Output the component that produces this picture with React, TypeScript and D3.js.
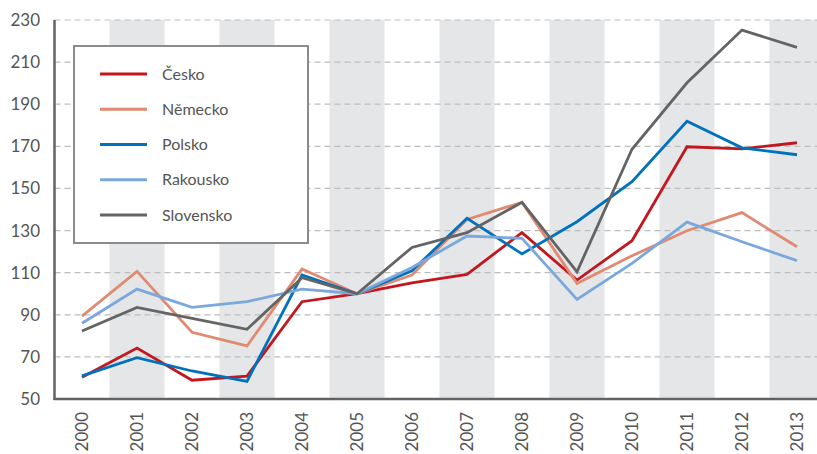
import React, { useEffect, useRef } from 'react';
import * as d3 from 'd3';

const years = ['2000', '2001', '2002', '2003', '2004', '2005', '2006', '2007', '2008', '2009', '2010', '2011', '2012', '2013'];
const yTicks = [50, 70, 90, 110, 130, 150, 170, 190, 210, 230];

const cesko = [60.3, 74.2, 58.9, 60.9, 96.2, 100, 105.2, 109.2, 129, 106.5, 125.2, 169.8, 168.8, 171.7];
const nemecko = [89.4, 110.6, 81.7, 75.2, 111.7, 100, 108.9, 135.3, 143.4, 104.9, 118, 129.9, 138.5, 122.3];
const polsko = [61, 69.6, 63.3, 58.4, 108.9, 100, 110.9, 135.8, 118.9, 134.2, 153.2, 181.9, 169.3, 166];
const rakousko = [86, 102.2, 93.5, 96.2, 102.2, 100, 112.5, 127.4, 126.3, 97.3, 114.4, 134, 124.7, 115.7];
const slovensko = [82.3, 93.5, 88.3, 83.1, 107.6, 100, 122, 129, 143.4, 110.4, 168.6, 200.2, 225.2, 217];

const seriesNames = ['Česko', 'Německo', 'Polsko', 'Rakousko', 'Slovensko'];
const seriesValues = [cesko, nemecko, polsko, rakousko, slovensko];
const seriesColors = ['#c1171f', '#e08a72', '#0072bd', '#7aa8dd', '#646464'];

const W = 817;
const H = 454;
const FONT = 'Lato, "Noto Sans", sans-serif';

const App = () => {
  const svgRef = useRef<SVGSVGElement>(null);

  useEffect(() => {
    const svg = d3.select(svgRef.current);
    svg.selectAll('*').remove();

    const left = 54.5;
    const right = 824.5;
    const top = 20;
    const bottom = 399;

    const x = d3.scaleBand().domain(years).range([left, right]).padding(0);
    const y = d3.scaleLinear().domain([50, 230]).range([bottom, top]);
    const cx = (yr: string) => (x(yr) as number) + x.bandwidth() / 2;

    // shaded bands for odd years
    svg.append('g')
      .selectAll('rect')
      .data(years.filter((_, i) => i % 2 === 1))
      .join('rect')
      .attr('x', d => x(d) as number)
      .attr('y', top)
      .attr('width', x.bandwidth())
      .attr('height', bottom - top)
      .attr('fill', '#e5e6e8');

    // dashed grid
    svg.append('g')
      .selectAll('line')
      .data(yTicks.filter(t => t > 50))
      .join('line')
      .attr('x1', left)
      .attr('x2', W)
      .attr('y1', d => y(d))
      .attr('y2', d => y(d))
      .attr('stroke', '#bdbdbd')
      .attr('stroke-width', 1.2)
      .attr('stroke-dasharray', '6,4');

    // y labels
    svg.append('g')
      .selectAll('text')
      .data(yTicks)
      .join('text')
      .attr('x', 40)
      .attr('y', d => y(d))
      .attr('dy', '0.35em')
      .attr('text-anchor', 'end')
      .attr('font-family', FONT)
      .attr('font-size', 17)
      .attr('fill', '#555')
      .text(d => d);

    // x labels
    svg.append('g')
      .selectAll('text')
      .data(years)
      .join('text')
      .attr('transform', d => `translate(${cx(d)},${bottom + 13}) rotate(-90)`)
      .attr('dy', '0.35em')
      .attr('text-anchor', 'end')
      .attr('font-family', FONT)
      .attr('font-size', 17)
      .attr('fill', '#555')
      .text(d => d);

    // lines
    const lineGen = d3.line<number>()
      .x((_, i) => cx(years[i]))
      .y(v => y(v));

    svg.append('g')
      .selectAll('path')
      .data(seriesValues)
      .join('path')
      .attr('d', d => lineGen(d))
      .attr('fill', 'none')
      .attr('stroke', (_, i) => seriesColors[i])
      .attr('stroke-width', 2.8)
      .attr('stroke-linejoin', 'miter');

    // axes
    svg.append('line')
      .attr('x1', left).attr('x2', left)
      .attr('y1', top).attr('y2', bottom + 1)
      .attr('stroke', '#636363').attr('stroke-width', 2.5);
    svg.append('line')
      .attr('x1', left - 1).attr('x2', W)
      .attr('y1', bottom).attr('y2', bottom)
      .attr('stroke', '#636363').attr('stroke-width', 2.5);

    // legend
    const legend = svg.append('g');
    legend.append('rect')
      .attr('x', 74).attr('y', 46)
      .attr('width', 234).attr('height', 197)
      .attr('fill', '#fff')
      .attr('stroke', '#808080')
      .attr('stroke-width', 1.8);

    const ly = d3.scalePoint().domain(seriesNames).range([74, 215]);
    const items = legend.selectAll('g.item')
      .data(seriesNames)
      .join('g')
      .attr('class', 'item')
      .attr('transform', d => `translate(0,${ly(d)})`);
    items.append('line')
      .attr('x1', 100).attr('x2', 147)
      .attr('stroke', (_, i) => seriesColors[i])
      .attr('stroke-width', 3.2);
    items.append('text')
      .attr('x', 162)
      .attr('dy', '0.35em')
      .attr('font-family', FONT)
      .attr('font-size', 16)
      .attr('fill', '#555')
      .text(d => d);
  }, []);

  return (
    <svg
      ref={svgRef}
      width={W}
      height={H}
      style={{ position: 'absolute', left: 0, top: 0, background: '#fff' }}
    />
  );
};

export default App;
